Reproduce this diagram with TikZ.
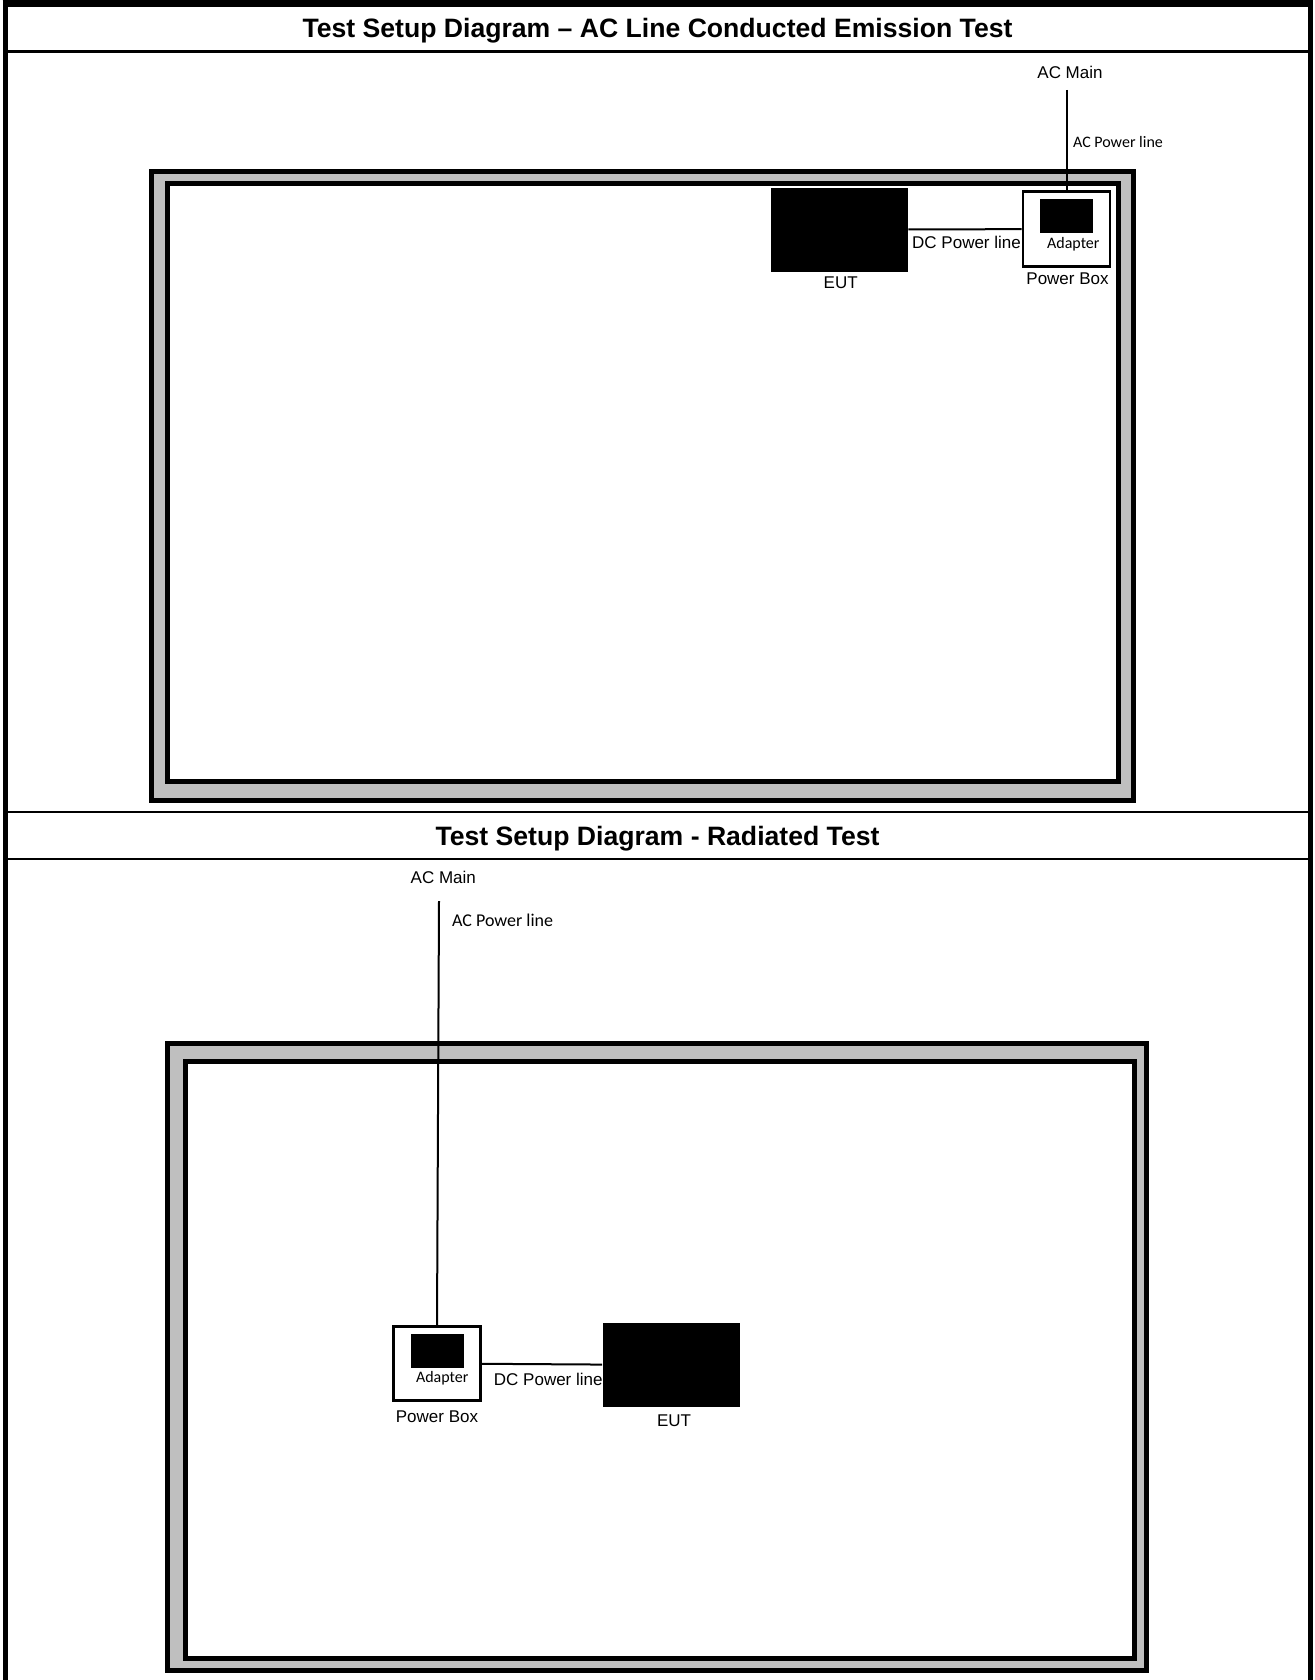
\documentclass[tikz,border=0pt]{standalone}
\usepackage{fontspec}
\setmainfont{Liberation Sans}
\newfontfamily\calibri{Carlito}
\usetikzlibrary{positioning,calc}
\definecolor{frameGray}{RGB}{191,191,191}

\begin{document}
\begin{tikzpicture}[
  x=0.5pt, y=-0.5pt,
  tableedge/.style={draw=black, line width=2.6pt},
  tableline/.style={draw=black, line width=1.2pt},
  heading/.style={font=\fontsize{13.3}{16}\selectfont\bfseries, inner sep=0pt, anchor=base},
  outerframe/.style={draw=black, line width=2.5pt, fill=frameGray},
  innerframe/.style={draw=black, line width=2.5pt, fill=white},
  eut/.style={fill=black, draw=none, minimum width=68.5pt, minimum height=42pt, inner sep=0pt},
  pwrbox/.style={draw=black, line width=1.35pt, fill=white, minimum width=43.5pt, minimum height=37.3pt, inner sep=0pt},
  adapter/.style={fill=black, draw=none, minimum width=26.7pt, minimum height=17.3pt, inner sep=0pt},
  wire/.style={draw=black, line width=1pt},
  lbl/.style={font=\fontsize{8.5}{10}\selectfont, inner sep=0pt, anchor=base},
  cal/.style={font=\calibri\fontsize{8}{10}\selectfont, inner sep=0pt, anchor=base},
]
\useasboundingbox (0,0) rectangle (1314,1680);

% ---------- table ----------
\draw[tableedge] (5.3,1680) -- (5.3,3.6);
\draw[tableedge] (1310.5,1680) -- (1310.5,3.6);
\draw[tableedge, line width=3.6pt] (2.7,3.6) -- (1313,3.6);
\draw[tableline] (5.3,51.7) -- (1310.5,51.7);
\draw[tableline] (5.3,812.2) -- (1310.5,812.2);
\draw[tableline] (5.3,858.8) -- (1310.5,858.8);
\node[heading] (headA) at (657.5,37.5) {Test Setup Diagram – AC Line Conducted Emission Test};
\node[heading] (headB) at (657.5,845) {Test Setup Diagram - Radiated Test};

% ---------- conducted emission ----------
\begin{scope}
  \draw[outerframe] (151.5,171.5) rectangle (1133.5,800.5);
  \draw[innerframe] (167.5,183.5) rectangle (1118.5,781.5);
  \node[eut] (eutA) at (839.5,229.7) {};
  \node[pwrbox] (pboxA) at (1066.5,229) {};
  \node[adapter] (adpA) at (1066.7,216.2) {};
  \node[lbl] (acmainA) at (1070,78.3) {AC Main};
  \coordinate (acA) at (1066.5,90);
  \draw[wire] (acA) -- (pboxA.north);
  \draw[wire] (eutA) -- (pboxA);
  \node[cal, anchor=base west] (aclineA) at (1072.7,148) {AC Power line};
  \node[cal] (adptxtA) at ($(adpA.south)+(6.6,14.7)$) {Adapter};
  \node[lbl, anchor=base west] (dclineA) at ($(eutA.east)+(3.4,18.6)$) {DC Power line};
  \node[lbl] (euttxtA) at ($(eutA.south)+(1.2,16.6)$) {EUT};
  \node[lbl] (pboxtxtA) at ($(pboxA.south)+(1,16.8)$) {Power Box};
\end{scope}

% ---------- radiated ----------
\begin{scope}
  \draw[outerframe] (167.5,1043.5) rectangle (1146.5,1670.5);
  \draw[innerframe] (185,1061) rectangle (1134,1658);
  \node[eut] (eutB) at (671,1365) {};
  \node[pwrbox] (pboxB) at (437,1363.5) {};
  \node[adapter] (adpB) at (437.7,1350.8) {};
  \node[lbl] (acmainB) at (443.3,883.3) {AC Main};
  \coordinate (acB) at (439,901);
  \draw[wire] (acB) -- (pboxB.north);
  \draw[wire] (pboxB) -- (eutB);
  \node[cal, font=\calibri\fontsize{9}{11}\selectfont, anchor=base west] (aclineB) at (451.7,926) {AC Power line};
  \node[cal] (adptxtB) at ($(adpB.south)+(4.5,14.4)$) {Adapter};
  \node[lbl, anchor=base west] (dclineB) at ($(pboxB.east)+(11.7,21.5)$) {DC Power line};
  \node[lbl] (pboxtxtB) at ($(pboxB.south)+(0,20.2)$) {Power Box};
  \node[lbl] (euttxtB) at ($(eutB.south)+(3,19.3)$) {EUT};
\end{scope}

\end{tikzpicture}
\end{document}
